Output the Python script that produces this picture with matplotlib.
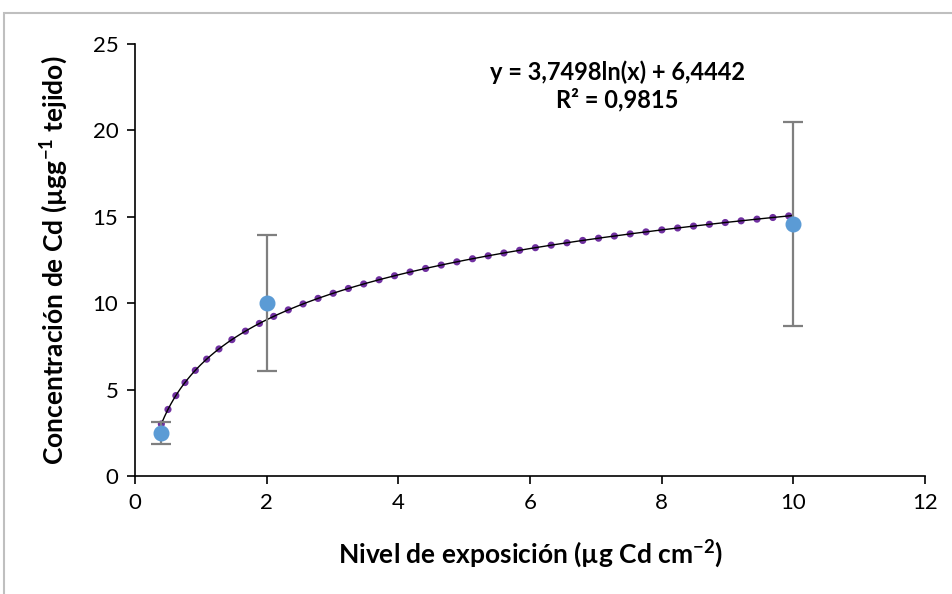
import numpy as np
import matplotlib
matplotlib.use("Agg")
from matplotlib import pyplot as plt
from matplotlib.patches import Rectangle

# data
exposure = [0.4, 2, 10]
concentration = [2.5, 10.0, 14.6]
error = [0.65, 3.95, 5.9]

# log trendline as printed on the chart
slope = 3.7498
intercept = 6.4442
r2 = 0.9815

plt.rcParams['font.family'] = ['Lato', 'DejaVu Sans']
plt.rcParams['mathtext.fontset'] = 'custom'
plt.rcParams['mathtext.rm'] = 'Lato'
plt.rcParams['mathtext.bf'] = 'Lato:bold'

fig = plt.figure(figsize=(9.53, 5.94), dpi=100)
# chart-area border, cut off at right and bottom
fig.patches.append(Rectangle((4/953, -0.1), 1.2, 1.1 - 13/594, transform=fig.transFigure,
                             fill=False, edgecolor='#bfbfbf', linewidth=1.5))
ax = fig.add_axes([135/953, 1 - 476/594, (925 - 135)/953, (476 - 44)/594])

xt = np.linspace(exposure[0], exposure[-1], 400)
yt = slope * np.log(xt) + intercept
ax.plot(xt, yt, color='#7030a0', linewidth=5.2, linestyle=(0, (0.01, 2.2)),
        dash_capstyle='round', zorder=2)
ax.plot(xt, yt, color='black', linewidth=1.0, zorder=3)

ax.errorbar(exposure, concentration, yerr=error, fmt='o', color='#5b9bd5',
            markersize=10.5, ecolor='#7f7f7f', elinewidth=1.6, capsize=7,
            capthick=1.6, zorder=4)

ax.set_xlim(0, 12)
ax.set_ylim(0, 25)
ax.set_xticks(np.arange(0, 13, 2))
ax.set_yticks(np.arange(0, 26, 5))
for s in ['top', 'right']:
    ax.spines[s].set_visible(False)
for s in ['left', 'bottom']:
    ax.spines[s].set_linewidth(1.2)
ax.tick_params(direction='out', length=6, width=1.2, labelsize=16, pad=6)

ax.set_xlabel('Nivel de exposición (µg Cd cm$^{\\mathbf{-2}}$)', fontsize=19,
              fontweight='bold', labelpad=18)
ax.set_ylabel('Concentración de Cd (µgg$^{\\mathbf{-1}}$ tejido)', fontsize=19,
              fontweight='bold', labelpad=16)

ax.text(0.648, 0.898, 'y = %sln(x) + %s\nR² = %s' % (str(slope).replace('.', ','),
        str(intercept).replace('.', ','), str(r2).replace('.', ',')),
        transform=fig.transFigure, ha='center', va='top', fontsize=17,
        fontweight='bold', linespacing=1.2)

fig.savefig('out.png', dpi=100)
